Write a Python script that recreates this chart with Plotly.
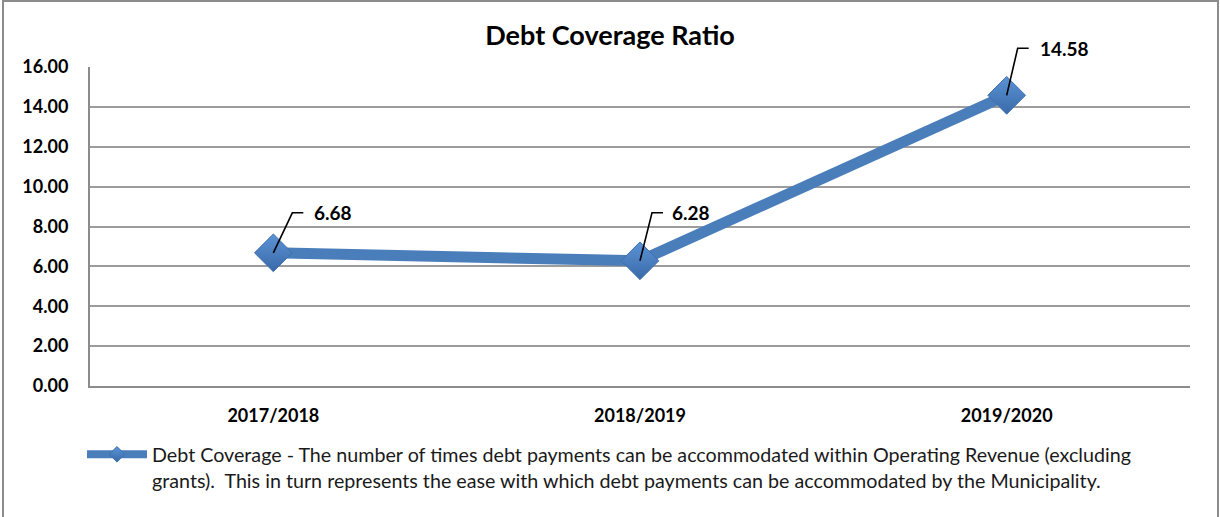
import plotly.graph_objects as go

categories = ["2017/2018", "2018/2019", "2019/2020"]
values = [6.68, 6.28, 14.58]
y_ticks = [0, 2, 4, 6, 8, 10, 12, 14, 16]
title_text = "Debt Coverage Ratio"
legend_text = ("Debt Coverage - The number of times debt payments can be accommodated within Operating Revenue (excluding"
               "<br>grants).  This in turn represents the ease with which debt payments can be accommodated by the Municipality.")

# label placement (pixel offsets of the leader-line elbow and label text from each point)
label_elbow = [(19, 40), (12, 48), (11, 47)]
label_text_dx = [39, 30, 31]

LINE_COLOR = "#4a7ebb"
FONT = "Lato, Calibri, Arial, sans-serif"
Y_MAX = 16

fig = go.Figure()
fig.add_trace(go.Scatter(
    x=categories, y=values, mode="lines+markers", name="Debt Coverage",
    line=dict(color=LINE_COLOR, width=11),
    marker=dict(symbol="diamond", size=29, color="#5b93d6",
                gradient=dict(type="vertical", color="#3a6aa8"),
                line=dict(color="#3f70ad", width=1)),
    showlegend=False, hoverinfo="x+y", cliponaxis=False,
))
# legend entry for the series (smaller symbol, as in the reference legend)
fig.add_trace(go.Scatter(
    x=[None], y=[None], mode="lines+markers", name=legend_text,
    line=dict(color=LINE_COLOR, width=8),
    marker=dict(symbol="diamond", size=12, color="#5b93d6",
                gradient=dict(type="vertical", color="#3a6aa8"),
                line=dict(color="#3f70ad", width=1)),
    showlegend=True,
))

for c, v, (ex, ey), tdx in zip(categories, values, label_elbow, label_text_dx):
    fig.add_shape(type="path", xref="x", yref="paper", xsizemode="pixel", ysizemode="pixel",
                  xanchor=c, yanchor=v / Y_MAX, path=f"M0,0 L{ex},{ey} L{ex + 11},{ey}",
                  line=dict(color="black", width=1.6))
    fig.add_annotation(x=c, y=v, xref="x", yref="y", text=f"{v:.2f}", showarrow=False,
                       xanchor="left", yanchor="middle", xshift=tdx, yshift=ey,
                       font=dict(family=FONT, size=19, color="black", weight="bold"))

# outer chart border
fig.add_shape(type="rect", xref="paper", yref="paper",
              x0=(3 - 90) / 1100, x1=(1218 - 90) / 1100,
              y0=(386 - 530) / 319, y1=(386 - 1) / 319,
              line=dict(color="#8c8c8c", width=2), layer="below")

fig.update_layout(
    width=1220, height=517,
    margin=dict(l=90, r=30, t=67, b=131),
    paper_bgcolor="white", plot_bgcolor="white",
    title=dict(text=title_text, x=0.5, xref="container", xanchor="center",
               y=1 - 36 / 517, yref="container", yanchor="middle",
               font=dict(family=FONT, size=27, color="black", weight="bold")),
    font=dict(family=FONT, color="black"),
    xaxis=dict(type="category", range=[-0.5, 2.5], showgrid=False, showline=True,
               linecolor="#8c8c8c", linewidth=2, ticks="",
               tickfont=dict(family=FONT, size=18, color="black", weight="bold"),
               ticklabelstandoff=12),
    yaxis=dict(range=[0, Y_MAX], tickvals=y_ticks, tickformat=".2f", showgrid=True,
               gridcolor="#9c9c9c", gridwidth=2, showline=True, linecolor="#8c8c8c", linewidth=2,
               zeroline=False, ticks="",
               tickfont=dict(family=FONT, size=18, color="black", weight="bold"),
               ticklabelstandoff=16),
    showlegend=True,
    legend=dict(x=-8 / 1100, xanchor="left", y=(386 - 435) / 319, yanchor="top",
                font=dict(family=FONT, size=19.7, color="#1a1a1a"),
                bgcolor="rgba(0,0,0,0)", itemwidth=60, tracegroupgap=0, valign="top"),
)

fig.write_html("out.html")
